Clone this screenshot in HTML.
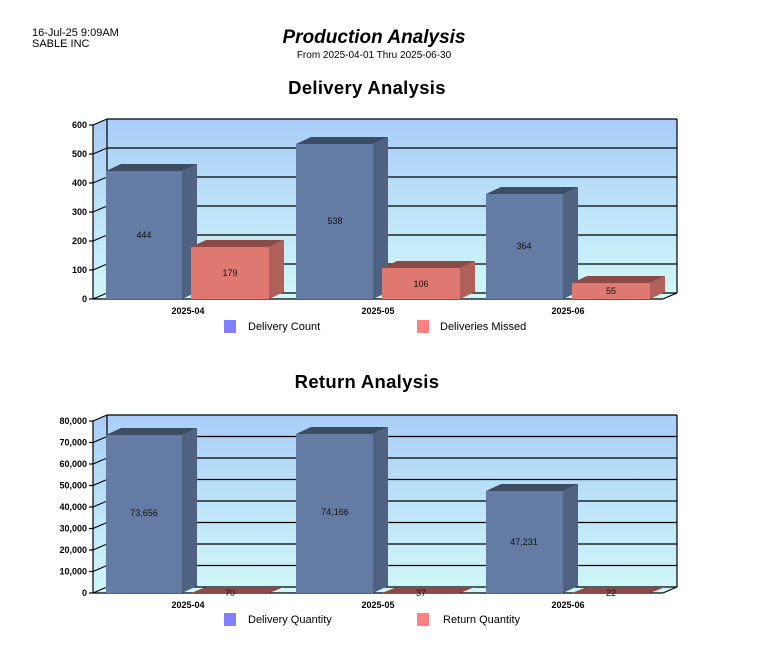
<!DOCTYPE html>
<html><head><meta charset="utf-8"><style>
html,body{margin:0;padding:0;background:#fff;}
svg{display:block;}
text{font-family:"Liberation Sans",Arial,sans-serif;}
.t{font-size:9px;font-weight:bold;fill:#000;}
.v{font-size:9px;fill:#111;}
.lg{font-size:11px;fill:#000;}
.h{font-size:18.5px;font-weight:bold;letter-spacing:0.3px;}
</style></head><body>
<svg width="779" height="661" viewBox="0 0 779 661" xmlns="http://www.w3.org/2000/svg">
<defs>
<linearGradient id="wall" x1="0" y1="0" x2="0" y2="1">
<stop offset="0" stop-color="#a9cdf7"/><stop offset="1" stop-color="#cff7f8"/></linearGradient>
</defs>
<text x="32" y="36" style="font-size:11px">16-Jul-25  9:09AM</text>
<text x="32" y="47" style="font-size:11px">SABLE INC</text>
<text x="374" y="43" text-anchor="middle" style="font-size:19px;font-weight:bold;font-style:italic">Production Analysis</text>
<text x="374" y="58" text-anchor="middle" style="font-size:10px">From 2025-04-01 Thru 2025-06-30</text>
<text x="367" y="94" text-anchor="middle" class="h">Delivery Analysis</text>
<text x="367" y="388" text-anchor="middle" class="h">Return Analysis</text>

<!-- Chart 1 -->
<polygon points="93,125 107,119 107,293 93,299" fill="url(#wall)"/>
<rect x="107" y="119" width="570" height="174" fill="url(#wall)"/>
<polygon points="93,299 107,293 677,293 663,299" fill="#cff7f8"/>
<g stroke="#000" stroke-width="1.2" fill="none">
<line x1="107" y1="119" x2="677" y2="119"/>
<line x1="107" y1="148" x2="677" y2="148"/>
<line x1="107" y1="177" x2="677" y2="177"/>
<line x1="107" y1="206" x2="677" y2="206"/>
<line x1="107" y1="235" x2="677" y2="235"/>
<line x1="107" y1="264" x2="677" y2="264"/>
<line x1="107" y1="293" x2="677" y2="293"/>
<line x1="107" y1="119" x2="107" y2="293"/>
<line x1="677" y1="119" x2="677" y2="293"/>
<line x1="93" y1="125" x2="93" y2="299"/>
<line x1="93" y1="299" x2="663" y2="299"/>
<line x1="663" y1="299" x2="677" y2="293"/>
<line x1="93" y1="125" x2="107" y2="119"/><line x1="89" y1="125" x2="93" y2="125"/>
<line x1="93" y1="154" x2="107" y2="148"/><line x1="89" y1="154" x2="93" y2="154"/>
<line x1="93" y1="183" x2="107" y2="177"/><line x1="89" y1="183" x2="93" y2="183"/>
<line x1="93" y1="212" x2="107" y2="206"/><line x1="89" y1="212" x2="93" y2="212"/>
<line x1="93" y1="241" x2="107" y2="235"/><line x1="89" y1="241" x2="93" y2="241"/>
<line x1="93" y1="270" x2="107" y2="264"/><line x1="89" y1="270" x2="93" y2="270"/>
<line x1="93" y1="299" x2="107" y2="293"/><line x1="89" y1="299" x2="93" y2="299"/>
</g>
<g class="t" text-anchor="end">
<text x="87" y="128">600</text><text x="87" y="157">500</text><text x="87" y="186">400</text>
<text x="87" y="215">300</text><text x="87" y="244">200</text><text x="87" y="273">100</text><text x="87" y="302">0</text>
</g>
<g>
<polygon points="106,171 121,164 197,164 182,171" fill="#3b4c63"/>
<polygon points="182,171 197,164 197,292 182,299" fill="#4f6282"/>
<rect x="106" y="171" width="76" height="128" fill="#647ca3"/>
<polygon points="191,247 206,240 284,240 269,247" fill="#8a4a46"/>
<polygon points="269,247 284,240 284,292 269,299" fill="#b0605a"/>
<rect x="191" y="247" width="78" height="52" fill="#e07872"/>

<polygon points="296,144 311,137 388,137 373,144" fill="#3b4c63"/>
<polygon points="373,144 388,137 388,292 373,299" fill="#4f6282"/>
<rect x="296" y="144" width="77" height="155" fill="#647ca3"/>
<polygon points="382,268 397,261 475,261 460,268" fill="#8a4a46"/>
<polygon points="460,268 475,261 475,292 460,299" fill="#b0605a"/>
<rect x="382" y="268" width="78" height="31" fill="#e07872"/>

<polygon points="486,194 501,187 578,187 563,194" fill="#3b4c63"/>
<polygon points="563,194 578,187 578,292 563,299" fill="#4f6282"/>
<rect x="486" y="194" width="77" height="105" fill="#647ca3"/>
<polygon points="572,283 587,276 665,276 650,283" fill="#8a4a46"/>
<polygon points="650,283 665,276 665,292 650,299" fill="#b0605a"/>
<rect x="572" y="283" width="78" height="16" fill="#e07872"/>
</g>
<g class="v" text-anchor="middle">
<text x="144" y="238">444</text><text x="230" y="276">179</text>
<text x="335" y="224">538</text><text x="421" y="287">106</text>
<text x="524" y="249">364</text><text x="611" y="294">55</text>
</g>
<g class="t" text-anchor="middle">
<text x="188" y="314">2025-04</text><text x="378" y="314">2025-05</text><text x="568" y="314">2025-06</text>
</g>
<rect x="224" y="320" width="12" height="13" fill="#8080ff"/>
<text x="248" y="330" class="lg">Delivery Count</text>
<rect x="417" y="320" width="12" height="13" fill="#ff8080"/>
<text x="440" y="330" class="lg">Deliveries Missed</text>

<!-- Chart 2 -->
<polygon points="93,421 107,415 107,587 93,593" fill="url(#wall)"/>
<rect x="107" y="415" width="570" height="172" fill="url(#wall)"/>
<polygon points="93,593 107,587 677,587 663,593" fill="#cff7f8"/>
<g stroke="#000" stroke-width="1.2" fill="none">
<line x1="107" y1="415" x2="677" y2="415"/>
<line x1="107" y1="436.5" x2="677" y2="436.5"/>
<line x1="107" y1="458" x2="677" y2="458"/>
<line x1="107" y1="479.5" x2="677" y2="479.5"/>
<line x1="107" y1="501" x2="677" y2="501"/>
<line x1="107" y1="522.5" x2="677" y2="522.5"/>
<line x1="107" y1="544" x2="677" y2="544"/>
<line x1="107" y1="565.5" x2="677" y2="565.5"/>
<line x1="107" y1="587" x2="677" y2="587"/>
<line x1="107" y1="415" x2="107" y2="587"/>
<line x1="677" y1="415" x2="677" y2="587"/>
<line x1="93" y1="421" x2="93" y2="593"/>
<line x1="93" y1="593" x2="663" y2="593"/>
<line x1="663" y1="593" x2="677" y2="587"/>
<line x1="93" y1="421" x2="107" y2="415"/><line x1="89" y1="421" x2="93" y2="421"/>
<line x1="93" y1="442.5" x2="107" y2="436.5"/><line x1="89" y1="442.5" x2="93" y2="442.5"/>
<line x1="93" y1="464" x2="107" y2="458"/><line x1="89" y1="464" x2="93" y2="464"/>
<line x1="93" y1="485.5" x2="107" y2="479.5"/><line x1="89" y1="485.5" x2="93" y2="485.5"/>
<line x1="93" y1="507" x2="107" y2="501"/><line x1="89" y1="507" x2="93" y2="507"/>
<line x1="93" y1="528.5" x2="107" y2="522.5"/><line x1="89" y1="528.5" x2="93" y2="528.5"/>
<line x1="93" y1="550" x2="107" y2="544"/><line x1="89" y1="550" x2="93" y2="550"/>
<line x1="93" y1="571.5" x2="107" y2="565.5"/><line x1="89" y1="571.5" x2="93" y2="571.5"/>
<line x1="93" y1="593" x2="107" y2="587"/><line x1="89" y1="593" x2="93" y2="593"/>
</g>
<g class="t" text-anchor="end">
<text x="87" y="424">80,000</text><text x="87" y="445.5">70,000</text><text x="87" y="467">60,000</text>
<text x="87" y="488.5">50,000</text><text x="87" y="510">40,000</text><text x="87" y="531.5">30,000</text>
<text x="87" y="553">20,000</text><text x="87" y="574.5">10,000</text><text x="87" y="596">0</text>
</g>
<g>
<polygon points="106,435 121,428 197,428 182,435" fill="#3b4c63"/>
<polygon points="182,435 197,428 197,586 182,593" fill="#4f6282"/>
<rect x="106" y="435" width="76" height="158" fill="#647ca3"/>
<polygon points="191,593 206,587 284,587 269,593" fill="#8a4a46"/>

<polygon points="296,434 311,427 388,427 373,434" fill="#3b4c63"/>
<polygon points="373,434 388,427 388,586 373,593" fill="#4f6282"/>
<rect x="296" y="434" width="77" height="159" fill="#647ca3"/>
<polygon points="382,593 397,587 475,587 460,593" fill="#8a4a46"/>

<polygon points="486,491 501,484 578,484 563,491" fill="#3b4c63"/>
<polygon points="563,491 578,484 578,586 563,593" fill="#4f6282"/>
<rect x="486" y="491" width="77" height="102" fill="#647ca3"/>
<polygon points="572,593 587,587 665,587 650,593" fill="#8a4a46"/>
</g>
<g class="v" text-anchor="middle">
<text x="144" y="516">73,656</text><text x="230" y="596">70</text>
<text x="335" y="515">74,166</text><text x="421" y="596">37</text>
<text x="524" y="545">47,231</text><text x="611" y="596">22</text>
</g>
<g class="t" text-anchor="middle">
<text x="188" y="608">2025-04</text><text x="378" y="608">2025-05</text><text x="568" y="608">2025-06</text>
</g>
<rect x="224" y="613" width="12" height="13" fill="#8080ff"/>
<text x="248" y="623" class="lg">Delivery Quantity</text>
<rect x="417" y="613" width="12" height="13" fill="#ff8080"/>
<text x="443" y="623" class="lg">Return Quantity</text>
</svg>
</body></html>
